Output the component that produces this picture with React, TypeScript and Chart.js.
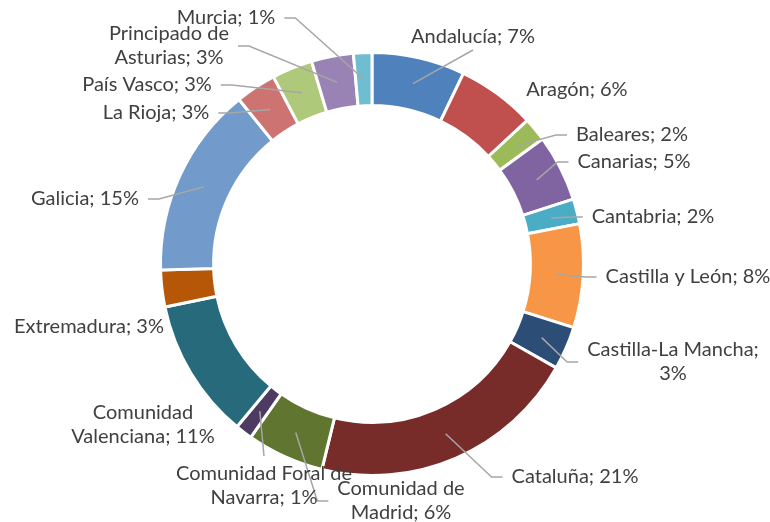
import React, { useEffect, useRef } from "react";
import { Chart, registerables } from "chart.js";

Chart.register(...registerables);

// ---- data ----
const REGIONS = [
  "Andalucía",
  "Aragón",
  "Baleares",
  "Canarias",
  "Cantabria",
  "Castilla y León",
  "Castilla-La Mancha",
  "Cataluña",
  "Comunidad de Madrid",
  "Comunidad Foral de Navarra",
  "Comunidad Valenciana",
  "Extremadura",
  "Galicia",
  "La Rioja",
  "País Vasco",
  "Principado de Asturias",
  "Murcia",
];
const SHARES = [7.1, 6.0, 1.8, 5.1, 1.9, 7.9, 3.3, 20.6, 5.9, 1.3, 10.7, 2.8, 14.6, 3.1, 3.1, 3.2, 1.4];
const COLORS = [
  "#4F81BD", "#C0504D", "#9BBB59", "#8064A2", "#4BACC6", "#F79646",
  "#2C4D75", "#772C2A", "#5F7530", "#4D3B62", "#276A7C", "#B65708",
  "#729ACA", "#CD7371", "#AFC97A", "#9983B5", "#6FBDD1",
];

// ---- label layout (offsets of label centre from chart centre, line break word index, leader side) ----
type Lay = { dx: number; dy: number; br?: number; side?: "l" | "r" | "t" | "b" };
const LABEL_LAYOUT: Lay[] = [
  { dx: 101, dy: -227, side: "b" },
  { dx: 205, dy: -174 },
  { dx: 260, dy: -129, side: "l" },
  { dx: 262, dy: -102, side: "l" },
  { dx: 281, dy: -47, side: "l" },
  { dx: 316, dy: 13, side: "l" },
  { dx: 301, dy: 98, br: 2, side: "l" },
  { dx: 203, dy: 213, side: "l" },
  { dx: 29, dy: 237, br: 2, side: "l" },
  { dx: -108, dy: 222, br: 3, side: "t" },
  { dx: -229, dy: 161, br: 1 },
  { dx: -283, dy: 63 },
  { dx: -287, dy: -65, side: "r" },
  { dx: -216, dy: -151, side: "r" },
  { dx: -225, dy: -179, side: "r" },
  { dx: -203, dy: -218, br: 2, side: "r" },
  { dx: -146, dy: -246, side: "r" },
];

const FONT = '20px Lato, "Open Sans", sans-serif';
const TEXT_COLOR = "#404040";
const LINE_COLOR = "#A6A6A6";
const LINE_H = 24;

const labelPlugin = {
  id: "outerLabels",
  afterDraw(chart: any) {
    const ctx: CanvasRenderingContext2D = chart.ctx;
    const meta = chart.getDatasetMeta(0);
    const data: number[] = chart.data.datasets[0].data;
    const total = data.reduce((a, b) => a + b, 0);
    ctx.save();
    ctx.font = FONT;
    ctx.textAlign = "center";
    ctx.textBaseline = "middle";
    meta.data.forEach((arc: any, i: number) => {
      const lay = LABEL_LAYOUT[i];
      const pct = Math.round((data[i] / total) * 100);
      const full = `${chart.data.labels[i]}; ${pct}%`;
      const words = full.split(" ");
      const lines = lay.br ? [words.slice(0, lay.br).join(" "), words.slice(lay.br).join(" ")] : [full];
      const cx = arc.x + lay.dx;
      const cy = arc.y + lay.dy;
      const w = Math.max(...lines.map((l) => ctx.measureText(l).width));
      const h = lines.length * LINE_H;
      const left = cx - w / 2, right = cx + w / 2, top = cy - h / 2, bottom = cy + h / 2;

      if (lay.side) {
        const mid = (arc.startAngle + arc.endAngle) / 2;
        const r = (arc.innerRadius + arc.outerRadius) / 2;
        const sx = arc.x + Math.cos(mid) * r;
        const sy = arc.y + Math.sin(mid) * r;
        let ex = cx, ey = cy, kx = cx, ky = cy;
        if (lay.side === "l") { ex = left - 9; ey = cy; kx = ex - 11; ky = cy; }
        else if (lay.side === "r") { ex = right + 9; ey = cy; kx = ex + 11; ky = cy; }
        else if (lay.side === "b") { ex = cx; ey = bottom + 1; kx = ex; ky = ey; }
        else { ex = cx; ey = top - 6; kx = ex; ky = ey; }
        ctx.strokeStyle = LINE_COLOR;
        ctx.lineWidth = 1.5;
        ctx.beginPath();
        ctx.moveTo(sx, sy);
        ctx.lineTo(kx, ky);
        ctx.lineTo(ex, ey);
        ctx.stroke();
      }
      ctx.fillStyle = TEXT_COLOR;
      lines.forEach((l, j) => {
        ctx.fillText(l, cx, top + LINE_H / 2 + j * LINE_H);
      });
    });
    ctx.restore();
  },
};

export default function App() {
  const ref = useRef<HTMLCanvasElement>(null);
  useEffect(() => {
    if (!ref.current) return;
    const chart = new Chart(ref.current, {
      type: "doughnut",
      data: {
        labels: REGIONS,
        datasets: [
          {
            data: SHARES,
            backgroundColor: COLORS,
            borderColor: "#FFFFFF",
            borderWidth: 3,
          },
        ],
      },
      options: {
        responsive: false,
        animation: false,
        radius: 211.5,
        cutout: "74.9%",
        layout: { padding: { left: 0, right: 26, top: 6, bottom: 0 } },
        plugins: {
          legend: { display: false },
          tooltip: { enabled: false },
        },
      } as any,
      plugins: [labelPlugin],
    });
    return () => chart.destroy();
  }, []);
  return (
    <div style={{ position: "fixed", left: 0, top: 0, width: 770, height: 522, background: "#fff" }}>
      <canvas ref={ref} width={770} height={522} />
    </div>
  );
}
